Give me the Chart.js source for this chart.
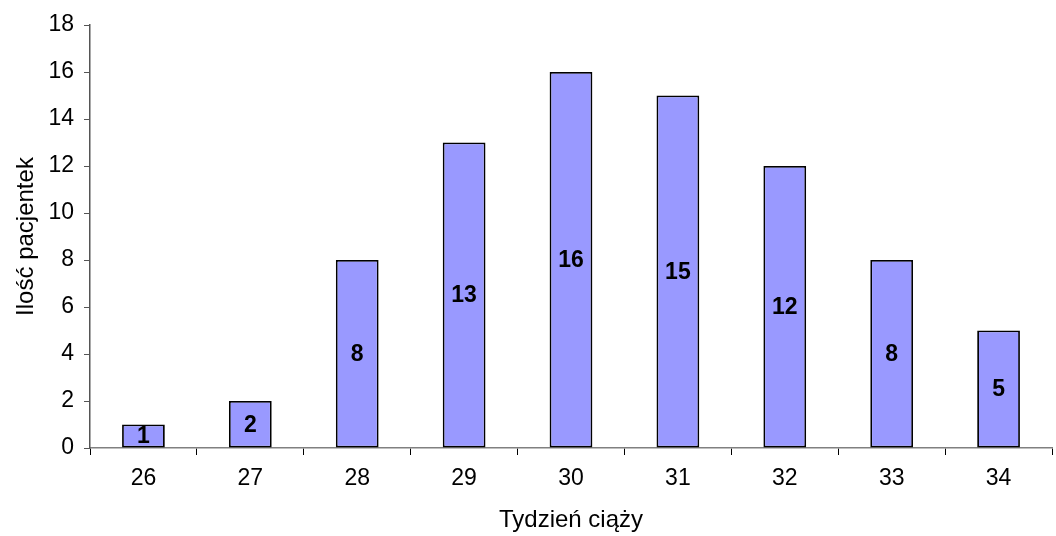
<!DOCTYPE html>
<html>
<head>
<meta charset="utf-8">
<script src="https://cdn.jsdelivr.net/npm/chart.js@4"></script>
<style>
  html, body { margin: 0; padding: 0; background: #fff; }
  #wrap { width: 1056px; height: 536px; }
</style>
</head>
<body>
<div id="wrap"><canvas id="c" width="1056" height="536"></canvas></div>
<script>
// Gestational week vs. number of patients
const weeks = ['26', '27', '28', '29', '30', '31', '32', '33', '34'];
const patients = [1, 2, 8, 13, 16, 15, 12, 8, 5];
const yTicks = [0, 2, 4, 6, 8, 10, 12, 14, 16, 18];

const FONT = 'Arial, "Liberation Sans", sans-serif';

// Writes each bar's value in bold, centred inside the bar
const valueLabels = {
  id: 'valueLabels',
  afterDatasetsDraw(chart) {
    const ctx = chart.ctx;
    const meta = chart.getDatasetMeta(0);
    ctx.save();
    ctx.font = 'bold 23px ' + FONT;
    ctx.fillStyle = '#000';
    ctx.textAlign = 'center';
    ctx.textBaseline = 'middle';
    meta.data.forEach((bar, i) => {
      const p = bar.getProps(['x', 'y', 'base'], true);
      ctx.fillText(String(patients[i]), p.x, (p.y + p.base) / 2 + 1);
    });
    ctx.restore();
  }
};

new Chart(document.getElementById('c'), {
  type: 'bar',
  data: {
    labels: weeks,
    datasets: [{
      data: patients,
      backgroundColor: '#9999FF',
      borderColor: '#000',
      borderWidth: 1.8,
      borderSkipped: false,
      categoryPercentage: 1,
      barPercentage: 0.4
    }]
  },
  options: {
    responsive: false,
    animation: false,
    events: [],
    layout: { padding: { top: 25, right: 4, left: 0, bottom: 0 } },
    plugins: { legend: { display: false }, tooltip: { enabled: false } },
    scales: {
      x: {
        grid: {
          offset: true,
          drawOnChartArea: false,
          tickLength: 7,
          color: '#000',
          tickColor: '#000'
        },
        border: { color: '#808080', width: 1.5 },
        ticks: { color: '#000', font: { family: FONT, size: 23 }, padding: 10 },
        title: {
          display: true,
          text: 'Tydzień ciąży',
          color: '#000',
          font: { family: FONT, size: 24 },
          padding: { top: 0, bottom: 1 }
        },
        afterFit(scale) { scale.height = 88; }
      },
      y: {
        min: 0,
        max: 18,
        afterBuildTicks(scale) { scale.ticks = yTicks.map(v => ({ value: v })); },
        grid: {
          drawOnChartArea: false,
          tickLength: 6,
          color: '#000',
          tickColor: '#555'
        },
        border: { color: '#555', width: 1.5 },
        ticks: { color: '#000', font: { family: FONT, size: 23 }, padding: 10 },
        title: {
          display: true,
          text: 'Ilość pacjentek',
          color: '#000',
          font: { family: FONT, size: 24 },
          padding: { top: 12, bottom: 0 }
        },
        afterFit(scale) { scale.width = 90; }
      }
    }
  },
  plugins: [valueLabels]
});
</script>
</body>
</html>
